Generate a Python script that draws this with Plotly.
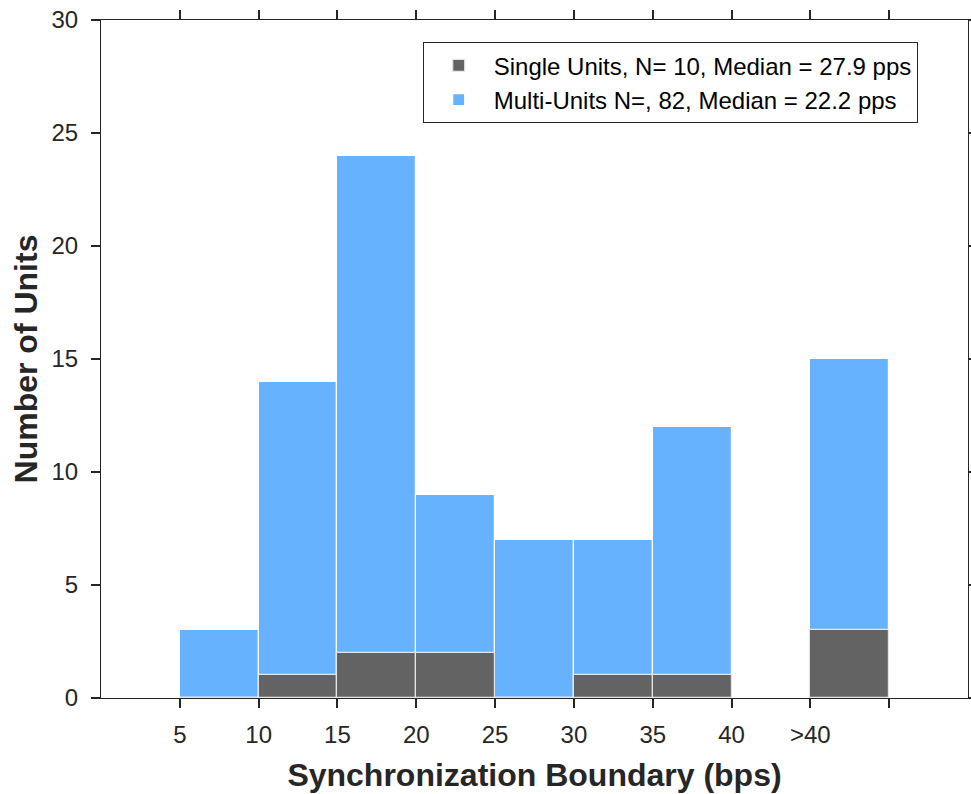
import plotly.graph_objects as go

bin_centers = [7.5, 12.5, 17.5, 22.5, 27.5, 32.5, 37.5, 47.5]
multi_counts = [3, 14, 24, 9, 7, 7, 12, 15]
single_counts = [0, 1, 2, 2, 0, 1, 1, 3]
tick_vals = [5, 10, 15, 20, 25, 30, 35, 40, 45, 50]
tick_text = ["5", "10", "15", "20", "25", "30", "35", "40", ">40", ""]

FONT = "Liberation Sans, Arial, sans-serif"
AX = "#262626"

fig = go.Figure()
fig.add_trace(go.Bar(
    x=bin_centers, y=multi_counts, width=5,
    name="Multi-Units N=, 82, Median = 22.2 pps",
    marker=dict(color="#66b2ff", line=dict(color="white", width=1.2)),
))
fig.add_trace(go.Bar(
    x=bin_centers, y=single_counts, width=5,
    name="Single Units, N= 10, Median = 27.9 pps",
    marker=dict(color="#636363", line=dict(color="#e6e6e6", width=1.2)),
))

axis_common = dict(
    showline=True, linecolor=AX, linewidth=1, mirror="ticks",
    ticks="outside", ticklen=9, tickwidth=1.5, tickcolor=AX,
    showgrid=False, zeroline=False, automargin=False,
    tickfont=dict(family=FONT, size=24, color=AX),
)

fig.update_layout(
    width=971, height=794,
    margin=dict(l=101, r=3, t=20, b=96),
    plot_bgcolor="white", paper_bgcolor="white",
    barmode="overlay", bargap=0,
    showlegend=True,
    legend=dict(
        x=0.942, y=0.967, xanchor="right", yanchor="top",
        bordercolor=AX, borderwidth=1, bgcolor="white",
        traceorder="reversed",
        font=dict(family=FONT, size=24, color="black"),
        itemwidth=60, tracegroupgap=0,
    ),
    xaxis=dict(
        range=[0, 55], tickvals=tick_vals, ticktext=tick_text,
        ticklabelstandoff=6,
        title=dict(text="<b>Synchronization Boundary (bps)</b>", standoff=16,
                   font=dict(family=FONT, size=32, color=AX)),
        **axis_common,
    ),
    yaxis=dict(
        range=[0, 30], tickvals=[0, 5, 10, 15, 20, 25, 30],
        ticklabelstandoff=8,
        title=dict(text="<b>Number of Units</b>", standoff=4,
                   font=dict(family=FONT, size=32, color=AX)),
        **axis_common,
    ),
)

fig.write_html("out.html")
